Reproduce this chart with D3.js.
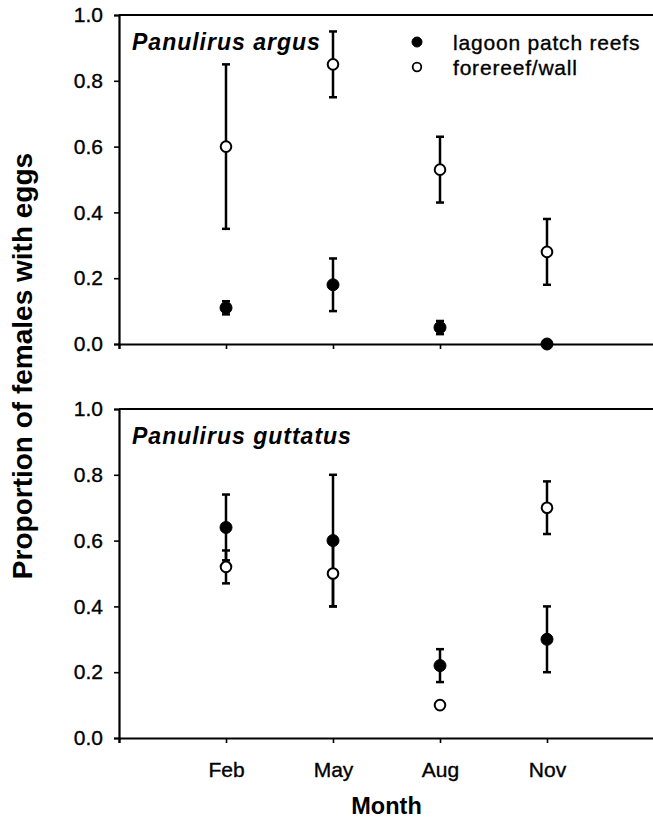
<!DOCTYPE html>
<html lang="en">
<head>
<meta charset="UTF-8">
<title>Proportion of females with eggs</title>
<script src="https://d3js.org/d3.v7.min.js"></script>
<style>
  body { margin: 0; background: #fff; }
  svg text { font-family: "Liberation Sans", Arial, Helvetica, sans-serif; fill: #000; }
</style>
</head>
<body>
<svg id="chart" width="653" height="821"></svg>
<script>
// data
var months = ["Feb", "May", "Aug", "Nov"];
var yTicks = [0, 0.2, 0.4, 0.6, 0.8, 1.0];
var seriesNames = ["lagoon patch reefs", "forereef/wall"];

// Panulirus argus
var argusLagoon     = [0.11, 0.18, 0.05, 0.00];
var argusLagoonLo   = [0.09, 0.10, 0.03, 0.00];
var argusLagoonHi   = [0.13, 0.26, 0.07, 0.00];
var argusFore       = [0.60, 0.85, 0.53, 0.28];
var argusForeLo     = [0.35, 0.75, 0.43, 0.18];
var argusForeHi     = [0.85, 0.95, 0.63, 0.38];

// Panulirus guttatus
var guttLagoon      = [0.64, 0.60, 0.22, 0.30];
var guttLagoonLo    = [0.54, 0.40, 0.17, 0.20];
var guttLagoonHi    = [0.74, 0.80, 0.27, 0.40];
var guttFore        = [0.52, 0.50, 0.10, 0.70];
var guttForeLo      = [0.47, 0.40, 0.09, 0.62];
var guttForeHi      = [0.57, 0.60, 0.11, 0.78];

var svg = d3.select("#chart");

var left = 119, right = 654;
// month positions: axis origin at 0, Feb..Nov at 1..4
var x = d3.scaleLinear().domain([0, 5]).range([left, right]);

function buildRows(v, lo, hi) {
  return months.map(function(m, i) { return {i: i + 1, v: v[i], lo: lo[i], hi: hi[i]}; });
}

var panels = [
  {title: "Panulirus argus", top: 15, bottom: 344, showMonths: false, legend: true,
   series: [buildRows(argusLagoon, argusLagoonLo, argusLagoonHi),
            buildRows(argusFore, argusForeLo, argusForeHi)]},
  {title: "Panulirus guttatus", top: 409, bottom: 738, showMonths: true, legend: false,
   series: [buildRows(guttLagoon, guttLagoonLo, guttLagoonHi),
            buildRows(guttFore, guttForeLo, guttForeHi)]}
];

function heavy(sel) {
  // the printed figure's regular text is a bit heavier than Liberation regular
  sel.attr("stroke", "#000").attr("stroke-width", 0.35);
}

panels.forEach(function(p) {
  var y = d3.scaleLinear().domain([0, 1]).range([p.bottom, p.top]);
  var g = svg.append("g");

  // y axis
  var yAxis = g.append("g")
      .attr("transform", "translate(" + left + ",0)")
      .call(d3.axisLeft(y).tickValues(yTicks).tickFormat(d3.format(".1f")).tickSize(5).tickPadding(11));
  yAxis.selectAll("line").attr("stroke-width", 1.6);
  yAxis.selectAll("text").style("font-size", "21px").call(heavy);

  // x axis
  var xAxis = g.append("g")
      .attr("transform", "translate(0," + p.bottom + ")")
      .call(d3.axisBottom(x).tickValues([0, 1, 2, 3, 4, 5])
        .tickFormat(function(d) { return p.showMonths && d >= 1 && d <= 4 ? months[d - 1] : ""; })
        .tickSize(5).tickPadding(19));
  xAxis.selectAll("line").attr("stroke-width", 1.6);
  xAxis.selectAll("text").style("font-size", "21px").call(heavy);

  [yAxis, xAxis].forEach(function(a) {
    a.select(".domain").attr("stroke-width", 2.2);
  });

  // top frame line
  g.append("line")
    .attr("x1", left).attr("x2", right)
    .attr("y1", y(1)).attr("y2", y(1))
    .attr("stroke", "#000").attr("stroke-width", 2.2);

  // panel title
  g.append("text")
    .attr("x", 132).attr("y", p.top + 35)
    .style("font-size", "23px").style("font-weight", "bold").style("font-style", "italic")
    .style("letter-spacing", "1px")
    .text(p.title);

  // series: error bars then markers
  p.series.forEach(function(rows) {
    var bars = g.append("g").selectAll("g.err").data(rows).enter().append("g").attr("class", "err");
    bars.append("line")
      .attr("x1", function(d) { return x(d.i); }).attr("x2", function(d) { return x(d.i); })
      .attr("y1", function(d) { return y(d.lo); }).attr("y2", function(d) { return y(d.hi); })
      .attr("stroke", "#000").attr("stroke-width", 2.5);
    ["lo", "hi"].forEach(function(k) {
      bars.append("line")
        .attr("x1", function(d) { return x(d.i) - 4; }).attr("x2", function(d) { return x(d.i) + 4; })
        .attr("y1", function(d) { return y(d[k]); }).attr("y2", function(d) { return y(d[k]); })
        .attr("stroke", "#000").attr("stroke-width", 2.5);
    });
  });
  p.series.forEach(function(rows, s) {
    g.selectAll(null).data(rows).enter().append("circle")
      .attr("cx", function(d) { return x(d.i); })
      .attr("cy", function(d) { return y(d.v); })
      .attr("r", s === 0 ? 6 : 5.3)
      .attr("fill", s === 0 ? "#000" : "#fff")
      .attr("stroke", "#000").attr("stroke-width", s === 0 ? 1 : 2);
  });

  if (p.legend) {
    var lg = g.append("g");
    seriesNames.forEach(function(name, s) {
      var ly = 42 + s * 25;
      lg.append("circle").attr("cx", 417).attr("cy", ly)
        .attr("r", s === 0 ? 5 : 4.3)
        .attr("fill", s === 0 ? "#000" : "#fff")
        .attr("stroke", "#000").attr("stroke-width", s === 0 ? 1 : 1.8);
      lg.append("text").attr("x", 453).attr("y", ly + 8)
        .style("font-size", "21px").style("letter-spacing", "0.8px")
        .call(heavy)
        .text(name);
    });
  }
});

// axis titles
svg.append("text")
  .attr("transform", "translate(32,366) rotate(-90)")
  .attr("text-anchor", "middle")
  .style("font-size", "28px").style("font-weight", "bold")
  .text("Proportion of females with eggs");

svg.append("text")
  .attr("x", x(2.5)).attr("y", 814)
  .attr("text-anchor", "middle")
  .style("font-size", "23.5px").style("font-weight", "bold")
  .text("Month");
</script>
</body>
</html>
